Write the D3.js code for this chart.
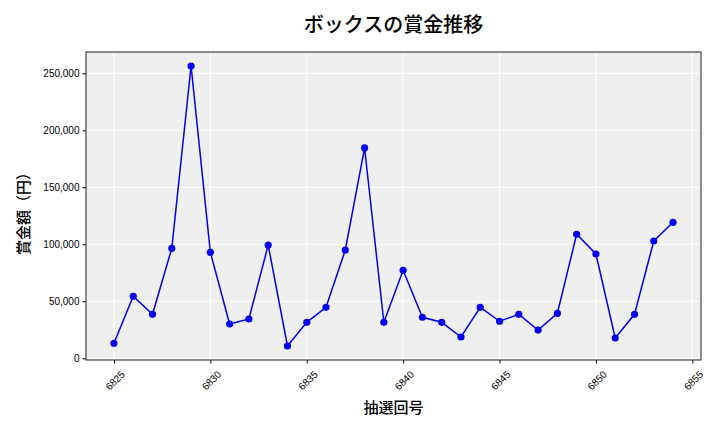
<!DOCTYPE html>
<html>
<head>
<meta charset="utf-8">
<script src="https://cdn.jsdelivr.net/npm/d3@7"></script>
<style>
  body { margin: 0; background: #fff; }
  svg { display: block; font-family: "Noto Sans CJK JP", "Noto Sans", sans-serif; }
</style>
</head>
<body>
<div id="chart"></div>
<script>
// draw numbers and prize amounts
const draws = [6825, 6826, 6827, 6828, 6829, 6830, 6831, 6832, 6833, 6834,
  6835, 6836, 6837, 6838, 6839, 6840, 6841, 6842, 6843, 6844,
  6845, 6846, 6847, 6848, 6849, 6850, 6851, 6852, 6853, 6854];
const prizes = [13200, 54400, 38600, 96500, 256400, 93000, 30100, 34500, 99400, 10800,
  31600, 44700, 95000, 184500, 31600, 77200, 36000, 31600, 18700, 44700,
  32500, 38600, 24800, 39500, 108800, 91500, 17800, 38600, 102900, 119300];
const xTicks = [6825, 6830, 6835, 6840, 6845, 6850, 6855];
const yTicks = [0, 50000, 100000, 150000, 200000, 250000];

const title = "ボックスの賞金推移";
const xLabel = "抽選回号";
const yLabel = "賞金額（円）";

const width = 720, height = 432;
const margin = {top: 52, right: 19, bottom: 72, left: 86};

const data = draws.map((d, i) => ({draw: d, prize: prizes[i]}));

// matplotlib-style 5% padding on both axes
const xPad = (d3.max(draws) - d3.min(draws)) * 0.05;
const yPad = (d3.max(prizes) - d3.min(prizes)) * 0.05;

const x = d3.scaleLinear()
    .domain([d3.min(draws) - xPad, d3.max(draws) + xPad])
    .range([margin.left, width - margin.right]);

const y = d3.scaleLinear()
    .domain([d3.min(prizes) - yPad, d3.max(prizes) + yPad])
    .range([height - margin.bottom, margin.top]);

const svg = d3.create("svg")
    .attr("width", width)
    .attr("height", height)
    .attr("viewBox", [0, 0, width, height]);

svg.append("rect")
    .attr("x", margin.left)
    .attr("y", margin.top)
    .attr("width", width - margin.left - margin.right)
    .attr("height", height - margin.top - margin.bottom)
    .attr("fill", "#efefef");

// grid
svg.append("g")
    .attr("stroke", "#fff")
    .attr("stroke-width", 1)
  .call(g => g.selectAll(".vx")
    .data(xTicks)
    .join("line")
      .attr("x1", d => x(d)).attr("x2", d => x(d))
      .attr("y1", margin.top).attr("y2", height - margin.bottom))
  .call(g => g.selectAll(".hy")
    .data(yTicks)
    .join("line")
      .attr("x1", margin.left).attr("x2", width - margin.right)
      .attr("y1", d => y(d)).attr("y2", d => y(d)));

const xAxis = g => g
    .attr("transform", `translate(0,${height - margin.bottom})`)
    .call(d3.axisBottom(x).tickValues(xTicks).tickFormat(d3.format("d")).tickSize(3.5).tickSizeOuter(0))
    .call(g => g.select(".domain").remove())
    .call(g => g.selectAll("text")
      .attr("font-size", 10)
      .attr("fill", "#000")
      .attr("text-anchor", "end")
      .attr("dy", null)
      .attr("transform", "translate(4,8) rotate(-45)")
      .attr("dominant-baseline", "central"));

const yAxis = g => g
    .attr("transform", `translate(${margin.left},0)`)
    .call(d3.axisLeft(y).tickValues(yTicks).tickFormat(d3.format(",")).tickSize(3.5).tickSizeOuter(0))
    .call(g => g.select(".domain").remove())
    .call(g => g.selectAll("text").attr("font-size", 10).attr("fill", "#000"));

svg.append("g").call(xAxis);
svg.append("g").call(yAxis);

// frame
svg.append("rect")
    .attr("x", margin.left)
    .attr("y", margin.top)
    .attr("width", width - margin.left - margin.right)
    .attr("height", height - margin.top - margin.bottom)
    .attr("fill", "none")
    .attr("stroke", "#222")
    .attr("stroke-width", 1);

const line = d3.line()
    .x(d => x(d.draw))
    .y(d => y(d.prize));

svg.append("path")
    .datum(data)
    .attr("fill", "none")
    .attr("stroke", "#0000ee")
    .attr("stroke-width", 1.5)
    .attr("d", line);

svg.append("g")
    .attr("fill", "#0000ee")
  .selectAll("circle")
  .data(data)
  .join("circle")
    .attr("cx", d => x(d.draw))
    .attr("cy", d => y(d.prize))
    .attr("r", 3.6);

svg.append("text")
    .attr("x", (margin.left + width - margin.right) / 2)
    .attr("y", 32)
    .attr("text-anchor", "middle")
    .attr("font-size", 20)
    .attr("font-weight", 500)
    .text(title);

svg.append("text")
    .attr("x", (margin.left + width - margin.right) / 2)
    .attr("y", 413)
    .attr("text-anchor", "middle")
    .attr("font-size", 15)
    .attr("font-weight", 500)
    .text(xLabel);

svg.append("text")
    .attr("transform", `translate(29,${(margin.top + height - margin.bottom) / 2 + 4}) rotate(-90)`)
    .attr("text-anchor", "middle")
    .attr("font-size", 15)
    .attr("font-weight", 500)
    .text(yLabel);

d3.select("#chart").append(() => svg.node());
</script>
</body>
</html>
